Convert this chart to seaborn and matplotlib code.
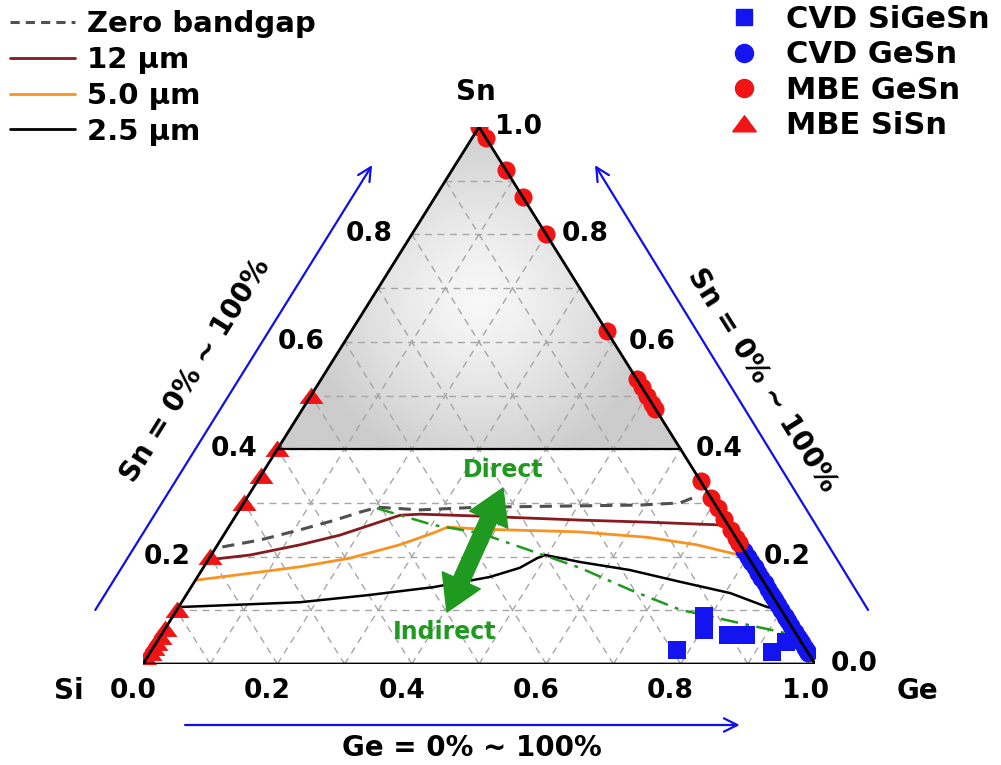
import numpy as np
import pandas as pd
import matplotlib
matplotlib.use("Agg")
import matplotlib.pyplot as plt
import seaborn as sns
from matplotlib.lines import Line2D
from matplotlib.patches import Polygon, FancyArrowPatch

# ---------------- data (Ge fraction, Sn fraction; Si = 1 - Ge - Sn) ----------------
zero_ge = [0.009, 0.059, 0.109, 0.152, 0.182, 0.204, 0.268, 0.355, 0.474, 0.592, 0.649, 0.666]
zero_sn = [0.218, 0.231, 0.250, 0.268, 0.283, 0.292, 0.287, 0.292, 0.294, 0.296, 0.300, 0.311]

um12_ge = [0.0, 0.058, 0.123, 0.173, 0.217, 0.244, 0.273, 0.349, 0.516, 0.622, 0.729, 0.745]
um12_sn = [0.194, 0.203, 0.222, 0.240, 0.263, 0.277, 0.279, 0.276, 0.268, 0.264, 0.259, 0.255]

um5_ge = [0.0, 0.075, 0.143, 0.209, 0.271, 0.310, 0.326, 0.380, 0.527, 0.632, 0.713, 0.770, 0.801]
um5_sn = [0.156, 0.169, 0.181, 0.197, 0.222, 0.244, 0.255, 0.251, 0.246, 0.236, 0.222, 0.207, 0.199]

um25_ge = [0.0, 0.079, 0.176, 0.269, 0.360, 0.435, 0.471, 0.488, 0.497, 0.555, 0.637, 0.723, 0.808, 0.876, 0.899]
um25_sn = [0.106, 0.110, 0.115, 0.128, 0.143, 0.162, 0.179, 0.197, 0.203, 0.190, 0.175, 0.153, 0.132, 0.106, 0.101]

trans_ge = [0.203, 0.302, 0.379, 0.494, 0.561, 0.656, 0.749, 0.863, 0.918, 0.963]
trans_sn = [0.290, 0.259, 0.244, 0.203, 0.179, 0.138, 0.101, 0.073, 0.060, 0.045]

# CVD SiGeSn (squares)
cvd_sigesn_ge = [0.782, 0.790, 0.803, 0.844, 0.870, 0.925, 0.936]
cvd_sigesn_sn = [0.026, 0.089, 0.063, 0.054, 0.054, 0.022, 0.041]

# CVD GeSn (on the Ge-Sn edge, Si = 0)
cvd_gesn_sn = [0.225, 0.21, 0.20, 0.19, 0.18, 0.17, 0.16, 0.15, 0.14, 0.13, 0.125, 0.12,
               0.11, 0.10, 0.09, 0.085, 0.08, 0.07, 0.06, 0.05, 0.045, 0.04, 0.03, 0.025, 0.02]

# MBE GeSn (on the Ge-Sn edge, Si = 0)
mbe_gesn_sn = [1.0, 0.98, 0.92, 0.87, 0.80, 0.62, 0.53, 0.515, 0.50, 0.485, 0.475,
               0.34, 0.31, 0.29, 0.27, 0.25, 0.235, 0.225]

# MBE SiSn (on the Si-Sn edge, Ge = 0)
mbe_sisn_sn = [0.50, 0.40, 0.35, 0.30, 0.20, 0.10, 0.065, 0.05, 0.04, 0.03, 0.02, 0.01, 0.0]

tick_vals = [0.0, 0.2, 0.4, 0.6, 0.8, 1.0]
left_tick_vals = [0.2, 0.4, 0.6, 0.8]

line_labels = ["Zero bandgap", "12 \u03bcm", "5.0 \u03bcm", "2.5 \u03bcm"]
marker_labels = ["CVD SiGeSn", "CVD GeSn", "MBE GeSn", "MBE SiSn"]

# ---------------- style ----------------
sns.set_style("white")
plt.rcParams['font.family'] = ['DejaVu Sans']
plt.rcParams['font.weight'] = 'bold'
plt.rcParams['text.color'] = 'black'

RED = '#f01414'
BLUE = '#1414f0'
DARKRED = '#861a1e'
ORANGE = '#f7931e'
GREEN = '#1f991f'
ARROWBLUE = '#1010e8'

W, H = 672.0, 537.0  # triangle size in pixels

fig = plt.figure(figsize=(10.01, 7.65), dpi=100)
ax = fig.add_axes([143 / 1001, 101 / 765, W / 1001, H / 765])
ax.set_xlim(0, 1)
ax.set_ylim(0, 1)
ax.axis('off')


def tern(ge, sn):
    ge = np.asarray(ge, float)
    sn = np.asarray(sn, float)
    return ge + sn / 2.0, sn


# ---------------- gray gradient above Sn = 0.4 ----------------
xs = np.linspace(0, 1, 500)
ys = np.linspace(0, 1, 500)
X, Y = np.meshgrid(xs, ys)
r = np.hypot((X - 0.5) * W, (Y - 0.68) * H)
val = np.clip(0.97 - 0.14 * (r / 150.0) ** 1.3, 0.80, 1.0)
img = ax.imshow(val, extent=[0, 1, 0, 1], origin='lower', cmap='gray', vmin=0, vmax=1,
                aspect='auto', zorder=0, interpolation='bilinear')
pl, _ = tern(0, 0.4)
pr, _ = tern(0.6, 0.4)
pa, _ = tern(0, 1.0)
poly = Polygon([(pl, 0.4), (pr, 0.4), (pa, 1.0)], closed=True, facecolor='none',
               edgecolor='none', transform=ax.transData)
ax.add_patch(poly)
img.set_clip_path(poly)

# ---------------- grid ----------------
gkw = dict(color='#a6a6a6', lw=1.0, dashes=(5, 4), zorder=1)
for k in range(1, 10):
    v = k / 10.0
    x0, y0 = tern(0, v); x1, y1 = tern(1 - v, v)
    ax.plot([x0, x1], [y0, y1], **gkw)
    x0, y0 = tern(v, 0); x1, y1 = tern(v, 1 - v)
    ax.plot([x0, x1], [y0, y1], **gkw)
    x0, y0 = tern(1 - v, 0); x1, y1 = tern(0, 1 - v)
    ax.plot([x0, x1], [y0, y1], **gkw)

# ---------------- curves ----------------
def curve(ge, sn, color, lw=1.8, dashes=None, z=3):
    x, y = tern(ge, sn)
    df = pd.DataFrame({'x': x, 'y': y})
    sns.lineplot(data=df, x='x', y='y', sort=False, estimator=None, color=color,
                 lw=lw, ax=ax, zorder=z, legend=False)
    ln = ax.lines[-1]
    if dashes is not None:
        ln.set_dashes(dashes)
    return ln

curve(zero_ge, zero_sn, '#505050', lw=2.2, dashes=(4, 2.6))
curve(um12_ge, um12_sn, DARKRED, lw=2.0)
curve(um5_ge, um5_sn, ORANGE, lw=2.0)
curve(um25_ge, um25_sn, 'black', lw=1.8)
curve(trans_ge, trans_sn, GREEN, lw=1.8, dashes=(7, 3, 1.5, 3))

# ---------------- markers ----------------
tri_marker = [(-1, -0.62), (1, -0.62), (0, 0.74), (-1, -0.62)]

x, y = tern(cvd_sigesn_ge, cvd_sigesn_sn)
sns.scatterplot(x=x, y=y, marker='s', s=180, color=BLUE, linewidth=0, ax=ax, zorder=4, legend=False)
cg_sn = np.array(cvd_gesn_sn)
x, y = tern(1 - cg_sn, cg_sn)
sns.scatterplot(x=x, y=y, marker='o', s=170, color=BLUE, linewidth=0, ax=ax, zorder=4, legend=False)
mg_sn = np.array(mbe_gesn_sn)
x, y = tern(1 - mg_sn, mg_sn)
sns.scatterplot(x=x, y=y, marker='o', s=170, color=RED, linewidth=0, ax=ax, zorder=4, legend=False)
ms_sn = np.array(mbe_sisn_sn)
x, y = tern(np.zeros_like(ms_sn), ms_sn)
sns.scatterplot(x=x, y=y, marker=tri_marker, s=300, color=RED, linewidth=0, ax=ax, zorder=4, legend=False)

# ---------------- triangle frame ----------------
cx, cy = tern([0, 1, 0, 0], [0, 0, 1, 0])
ax.plot(cx, cy, color='black', lw=2.0, zorder=6, solid_joinstyle='miter')
ax.plot([pl, pr], [0.4, 0.4], color='black', lw=1.6, zorder=5)

# ---------------- tick labels ----------------
tfs = 19
for v in tick_vals:
    x, _ = tern(v, 0)
    ax.text(x - 10 / W, -27 / H, f"{v:.1f}", ha='center', va='center', fontsize=tfs, fontweight='bold')
for v in tick_vals:
    x, y = tern(1 - v, v)
    ax.text(x + 39 / W, y, f"{v:.1f}", ha='center', va='center', fontsize=tfs, fontweight='bold')
for v in left_tick_vals:
    x, y = tern(0, v)
    ax.text(x - 43 / W, y, f"{v:.1f}", ha='center', va='center', fontsize=tfs, fontweight='bold')

# vertex labels
nfs = 20
ax.text((476 - 143) / W, 1 + 35 / H, "Sn", ha='center', va='center', fontsize=nfs, fontweight='bold')
ax.text((69 - 143) / W, -27 / H, "Si", ha='center', va='center', fontsize=nfs, fontweight='bold')
ax.text((917 - 143) / W, -27 / H, "Ge", ha='center', va='center', fontsize=nfs, fontweight='bold')

# ---------------- blue axis arrows ----------------
akw = dict(arrowstyle='->', color=ARROWBLUE, lw=1.6, mutation_scale=24, shrinkA=0, shrinkB=0)
ax.annotate('', xy=(0.341, 0.929), xytext=(-0.071, 0.1006), arrowprops=akw, annotation_clip=False)
ax.annotate('', xy=(0.6726, 0.929), xytext=(1.079, 0.1006), arrowprops=akw, annotation_clip=False)
ax.annotate('', xy=(0.888, -61 / H), xytext=(0.0625, -61 / H), arrowprops=akw, annotation_clip=False)

ax.text((196 - 143) / W, (664 - 370) / H, "Sn = 0% ~ 100%", rotation=58, rotation_mode='anchor',
        ha='center', va='center', fontsize=nfs, fontweight='bold')
ax.text((762 - 143) / W, (664 - 380) / H, "Sn = 0% ~ 100%", rotation=-58, rotation_mode='anchor',
        ha='center', va='center', fontsize=nfs, fontweight='bold')
ax.text((472 - 143) / W, (664 - 748) / H, "Ge = 0% ~ 100%", ha='center', va='center',
        fontsize=nfs, fontweight='bold')

# ---------------- direct / indirect arrow ----------------
pA = ((447 - 143) / W, (664 - 612) / H)
pB = ((503 - 143) / W, (664 - 488) / H)
mid = ((pA[0] + pB[0]) / 2, (pA[1] + pB[1]) / 2)
style = 'simple,head_width=1.5,head_length=1.25,tail_width=0.6'
for end in (pA, pB):
    ar = FancyArrowPatch(mid, end, arrowstyle=style, mutation_scale=20, color=GREEN,
                         shrinkA=0, shrinkB=0, zorder=7, transform=ax.transData)
    ax.add_patch(ar)
ax.text((503 - 143) / W, (664 - 470) / H, "Direct", color=GREEN, ha='center', va='center',
        fontsize=17, fontweight='bold')
ax.text((445 - 143) / W, (664 - 632) / H, "Indirect", color=GREEN, ha='center', va='center',
        fontsize=17, fontweight='bold')

# ---------------- legends ----------------
lfs = 21
lhandles = [Line2D([], [], color='#505050', lw=2.2, dashes=(3, 2)),
            Line2D([], [], color=DARKRED, lw=2.0),
            Line2D([], [], color=ORANGE, lw=2.0),
            Line2D([], [], color='black', lw=2.0)]
leg1 = fig.legend(lhandles, line_labels, loc='upper left', bbox_to_anchor=(10 / 1001, 1 - 10 / 765),
                  frameon=False, prop=dict(weight='bold', size=lfs), handlelength=2.23,
                  handletextpad=0.41, labelspacing=0.27, borderaxespad=0.0, borderpad=0.0)

rfs = 22
mhandles = [Line2D([], [], ls='none', marker='s', color=BLUE, markersize=12),
            Line2D([], [], ls='none', marker='o', color=BLUE, markersize=13),
            Line2D([], [], ls='none', marker='o', color=RED, markersize=13),
            Line2D([], [], ls='none', marker=tri_marker, color=RED, markersize=17)]
leg2 = fig.legend(mhandles, marker_labels, loc='upper right', bbox_to_anchor=(990 / 1001, 1 - 5 / 765),
                  frameon=False, prop=dict(weight='bold', size=rfs), handlelength=1.0,
                  handletextpad=0.9, labelspacing=0.21, borderaxespad=0.0, borderpad=0.0)

fig.savefig('out.png', dpi=100)
